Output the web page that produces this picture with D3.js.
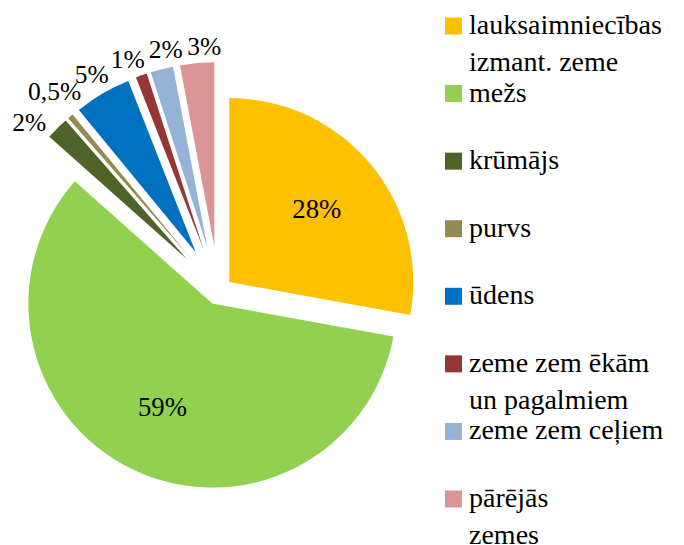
<!DOCTYPE html>
<html lang="lv">
<head>
<meta charset="UTF-8">
<title>Zemes izmantošana</title>
<style>
    body { margin: 0; background: #fff; }
    svg { display: block; }
</style>
<script src="https://d3js.org/d3.v7.min.js"></script>
</head>
<body>
<div id="chart"></div>
<script>
    // data
    const categories = [
        "lauksaimniecības\nizmant. zeme",
        "mežs",
        "krūmājs",
        "purvs",
        "ūdens",
        "zeme zem ēkām\nun pagalmiem",
        "zeme zem ceļiem",
        "pārējās\nzemes"
    ];
    const values = [28, 59, 2, 0.5, 5, 1, 2, 3];
    const valueLabels = ["28%", "59%", "2%", "0,5%", "5%", "1%", "2%", "3%"];
    const colors = ["#FFC000", "#92D050", "#4F6228", "#948A54", "#0070C0", "#953735", "#95B3D7", "#D99694"];

    const width = 684;
    const height = 545;
    const cx = 218.5, cy = 291;
    const radius = 184;
    const fontFamily = "Liberation Serif, Tinos, DejaVu Serif, Noto Serif, FreeSerif, Nimbus Roman, Times New Roman, Times, serif";

    const svg = d3.select("#chart").append("svg")
        .attr("width", width)
        .attr("height", height)
        .style("font-family", fontFamily);

    // pick a font size that gives the text the width it has in the picture
    function fitSize(str, targetWidth) {
        const t = svg.append("text").attr("font-size", 100).text(str);
        const w = t.node().getComputedTextLength();
        t.remove();
        return 100 * targetWidth / w;
    }
    const legendSize = Math.min(28, fitSize("lauksaimniecības", 212));
    const innerSize = fitSize("59%", 49);
    const outerSize = fitSize("2%", 34);

    const rows = categories.map((c, i) => ({ name: c, value: values[i], label: valueLabels[i], color: colors[i] }));

    const pie = d3.pie().sort(null).value(d => d.value);
    const arcs = pie(rows);
    const arc = d3.arc().innerRadius(0).outerRadius(radius);
    const innerLabelArc = d3.arc().innerRadius(radius * 0.62).outerRadius(radius * 0.62);

    // big slices pulled out a little, small ones a lot
    const explode = d => d.data.value >= 10 ? 14 : 45;
    const mid = d => (d.startAngle + d.endAngle) / 2;
    const dir = a => [Math.sin(a), -Math.cos(a)];

    const g = svg.append("g").attr("transform", `translate(${cx},${cy})`);

    const slice = g.selectAll("g.slice")
        .data(arcs)
        .join("g")
        .attr("class", "slice")
        .attr("transform", d => {
            const [x, y] = dir(mid(d));
            return `translate(${x * explode(d)},${y * explode(d)})`;
        });

    slice.append("path")
        .attr("d", arc)
        .attr("fill", d => d.data.color);

    // labels inside the two large slices
    slice.filter(d => d.data.value >= 10)
        .append("text")
        .attr("transform", d => `translate(${innerLabelArc.centroid(d)})`)
        .attr("text-anchor", "middle")
        .attr("dy", "0.35em")
        .attr("font-size", innerSize)
        .text(d => d.data.label);

    // labels outside the small slices, spread apart so they do not collide
    const small = arcs.filter(d => d.data.value < 10).map(d => ({ d, a: mid(d) }));
    const minSep = 9 * Math.PI / 180;
    for (let k = 0; k < 30; k++) {
        for (let i = 1; i < small.length; i++) {
            const gap = small[i].a - small[i - 1].a;
            if (gap < minSep) {
                const push = (minSep - gap) / 2;
                small[i - 1].a -= push;
                small[i].a += push;
            }
        }
    }

    const outer = g.selectAll("text.outer")
        .data(small)
        .join("text")
        .attr("class", "outer")
        .attr("text-anchor", "middle")
        .attr("dy", "0.35em")
        .attr("font-size", outerSize)
        .text(s => s.d.data.label);

    outer.each(function (s) {
        const w = this.getComputedTextLength();
        const h = 20;
        const [x, y] = dir(s.a);
        const r = radius + explode(s.d) + 5 + Math.abs(x) * w / 2 + Math.abs(y) * h / 2;
        d3.select(this).attr("x", x * r).attr("y", y * r);
    });

    // legend
    const legendY = d3.scaleLinear().domain([0, categories.length - 1]).range([26, 499]);
    const legend = svg.append("g").attr("transform", "translate(445,0)");

    const item = legend.selectAll("g")
        .data(rows)
        .join("g")
        .attr("transform", (d, i) => `translate(0,${legendY(i)})`);

    item.append("rect")
        .attr("x", 0)
        .attr("y", -8.5)
        .attr("width", 17)
        .attr("height", 17)
        .attr("fill", d => d.color);

    item.append("text")
        .attr("x", 24)
        .attr("y", 8)
        .attr("font-size", legendSize)
        .selectAll("tspan")
        .data(d => d.name.split("\n"))
        .join("tspan")
        .attr("x", 24)
        .attr("dy", (t, i) => i === 0 ? 0 : 37)
        .text(t => t);
</script>
</body>
</html>
